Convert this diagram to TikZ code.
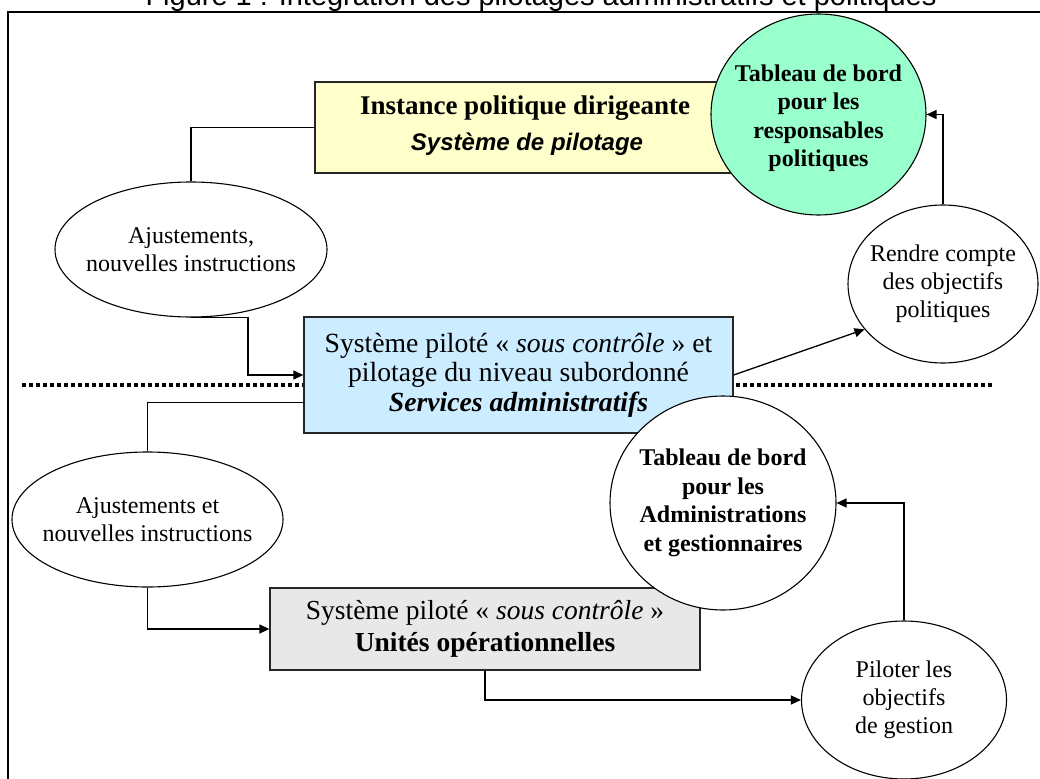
\documentclass[tikz,border=0pt]{standalone}
\usepackage{fontspec}
\setmainfont{Liberation Serif}
\setsansfont{Liberation Sans}
\usetikzlibrary{arrows.meta,shapes.geometric}
\definecolor{yelfill}{HTML}{FFFFCC}
\definecolor{bluefill}{HTML}{CCECFF}
\definecolor{grayfill}{HTML}{E8E8E8}
\definecolor{greenfill}{HTML}{99FFCC}
\begin{document}
\begin{tikzpicture}[x=1pt,y=-1pt,
  box/.style={draw=black!85, line width=1.3pt, inner sep=0pt, align=center},
  oval/.style={ellipse, draw, line width=1.1pt, fill=white, inner sep=0pt},
  txt/.style={align=center, inner sep=0pt, font=\fontsize{24}{28}\selectfont},
  btxt/.style={align=center, inner sep=0pt, font=\bfseries\fontsize{24}{28.5}\selectfont},
  conn/.style={line width=1.3pt},
  arr/.style={conn, -{Triangle[length=10pt,width=9pt]}}]
\useasboundingbox (0,0) rectangle (1040,778);
% title (partly cut by the page edge, as in the reference)
\node[font=\sffamily\fontsize{29}{34}\selectfont, anchor=base, inner sep=0pt] (title) at (541,6) {Figure 1 : Intégration des pilotages administratifs et politiques};
% frame
\draw[line width=1.5pt] (8,12) rectangle (1080,820);
% dotted separator
\draw[line width=4pt, dash pattern=on 4pt off 3pt] (22,385) -- (993,385);
% top box
\node[box, fill=yelfill, minimum width=422pt, minimum height=91pt] (yel) at (526,127.5) {};
\node[anchor=base, inner sep=0pt, font=\bfseries\fontsize{27}{32}\selectfont] (yelA) at (525,115) {Instance politique dirigeante};
\node[anchor=base, inner sep=0pt, font=\sffamily\bfseries\itshape\fontsize{24}{28}\selectfont] (yelB) at (527,150) {Système de pilotage};
% green circle
\node[oval, fill=greenfill, minimum width=215pt, minimum height=201pt] (green) at (818.5,114.5) {};
\node[btxt] (greenT) at (818.5,118) {Tableau de bord\\pour les\\responsables\\politiques};
% blue box
\node[box, fill=bluefill, minimum width=429pt, minimum height=116pt, font=\fontsize{27.7}{29.5}\selectfont] (blue) at (518.5,375) {Système piloté « \textit{sous contrôle} » et\\pilotage du niveau subordonné\\\textbf{\textit{Services administratifs}}};
% gray box
\node[box, fill=grayfill, minimum width=430pt, minimum height=82pt, font=\fontsize{27.5}{32}\selectfont] (gray) at (485,629) {Système piloté « \textit{sous contrôle} »\\\textbf{Unités opérationnelles}};
% ellipses
\node[oval, minimum width=272pt, minimum height=135pt] (aj1) at (191,249.5) {};
\node[txt] (aj1T) at (aj1) {Ajustements,\\nouvelles instructions};
\node[oval, minimum width=190pt, minimum height=158pt] (rendre) at (943,284) {};
\node[txt] (rendreT) at (rendre) {Rendre compte\\des objectifs\\politiques};
\node[oval, minimum width=271pt, minimum height=135pt] (aj2) at (147.5,519.5) {};
\node[txt] (aj2T) at (aj2) {Ajustements et\\nouvelles instructions};
\node[oval, minimum width=226pt, minimum height=214pt] (tab2) at (723,503) {};
\node[btxt] (tab2T) at (tab2) {Tableau de bord\\pour les\\Administrations\\et gestionnaires};
\node[oval, minimum width=205pt, minimum height=158pt] (pil) at (904,700) {};
\node[txt] (pilT) at (pil) {Piloter les\\objectifs\\de gestion};
% connectors
\draw[conn] (yel.west) -| (aj1.north);
\draw[arr] (aj1.south) -- ++(57,0) |- (blue.west);
\draw[arr] (blue.east) -- (rendre.210);
\draw[arr] (rendre.north) |- (green.east);
\draw[conn] ([yshift=31pt]blue.south west) -| (aj2.north);
\draw[arr] (aj2.south) |- (gray.west);
\draw[arr] (gray.south) |- (pil.west);
\draw[arr] (pil.north) |- (tab2.east);
\end{tikzpicture}
\end{document}
